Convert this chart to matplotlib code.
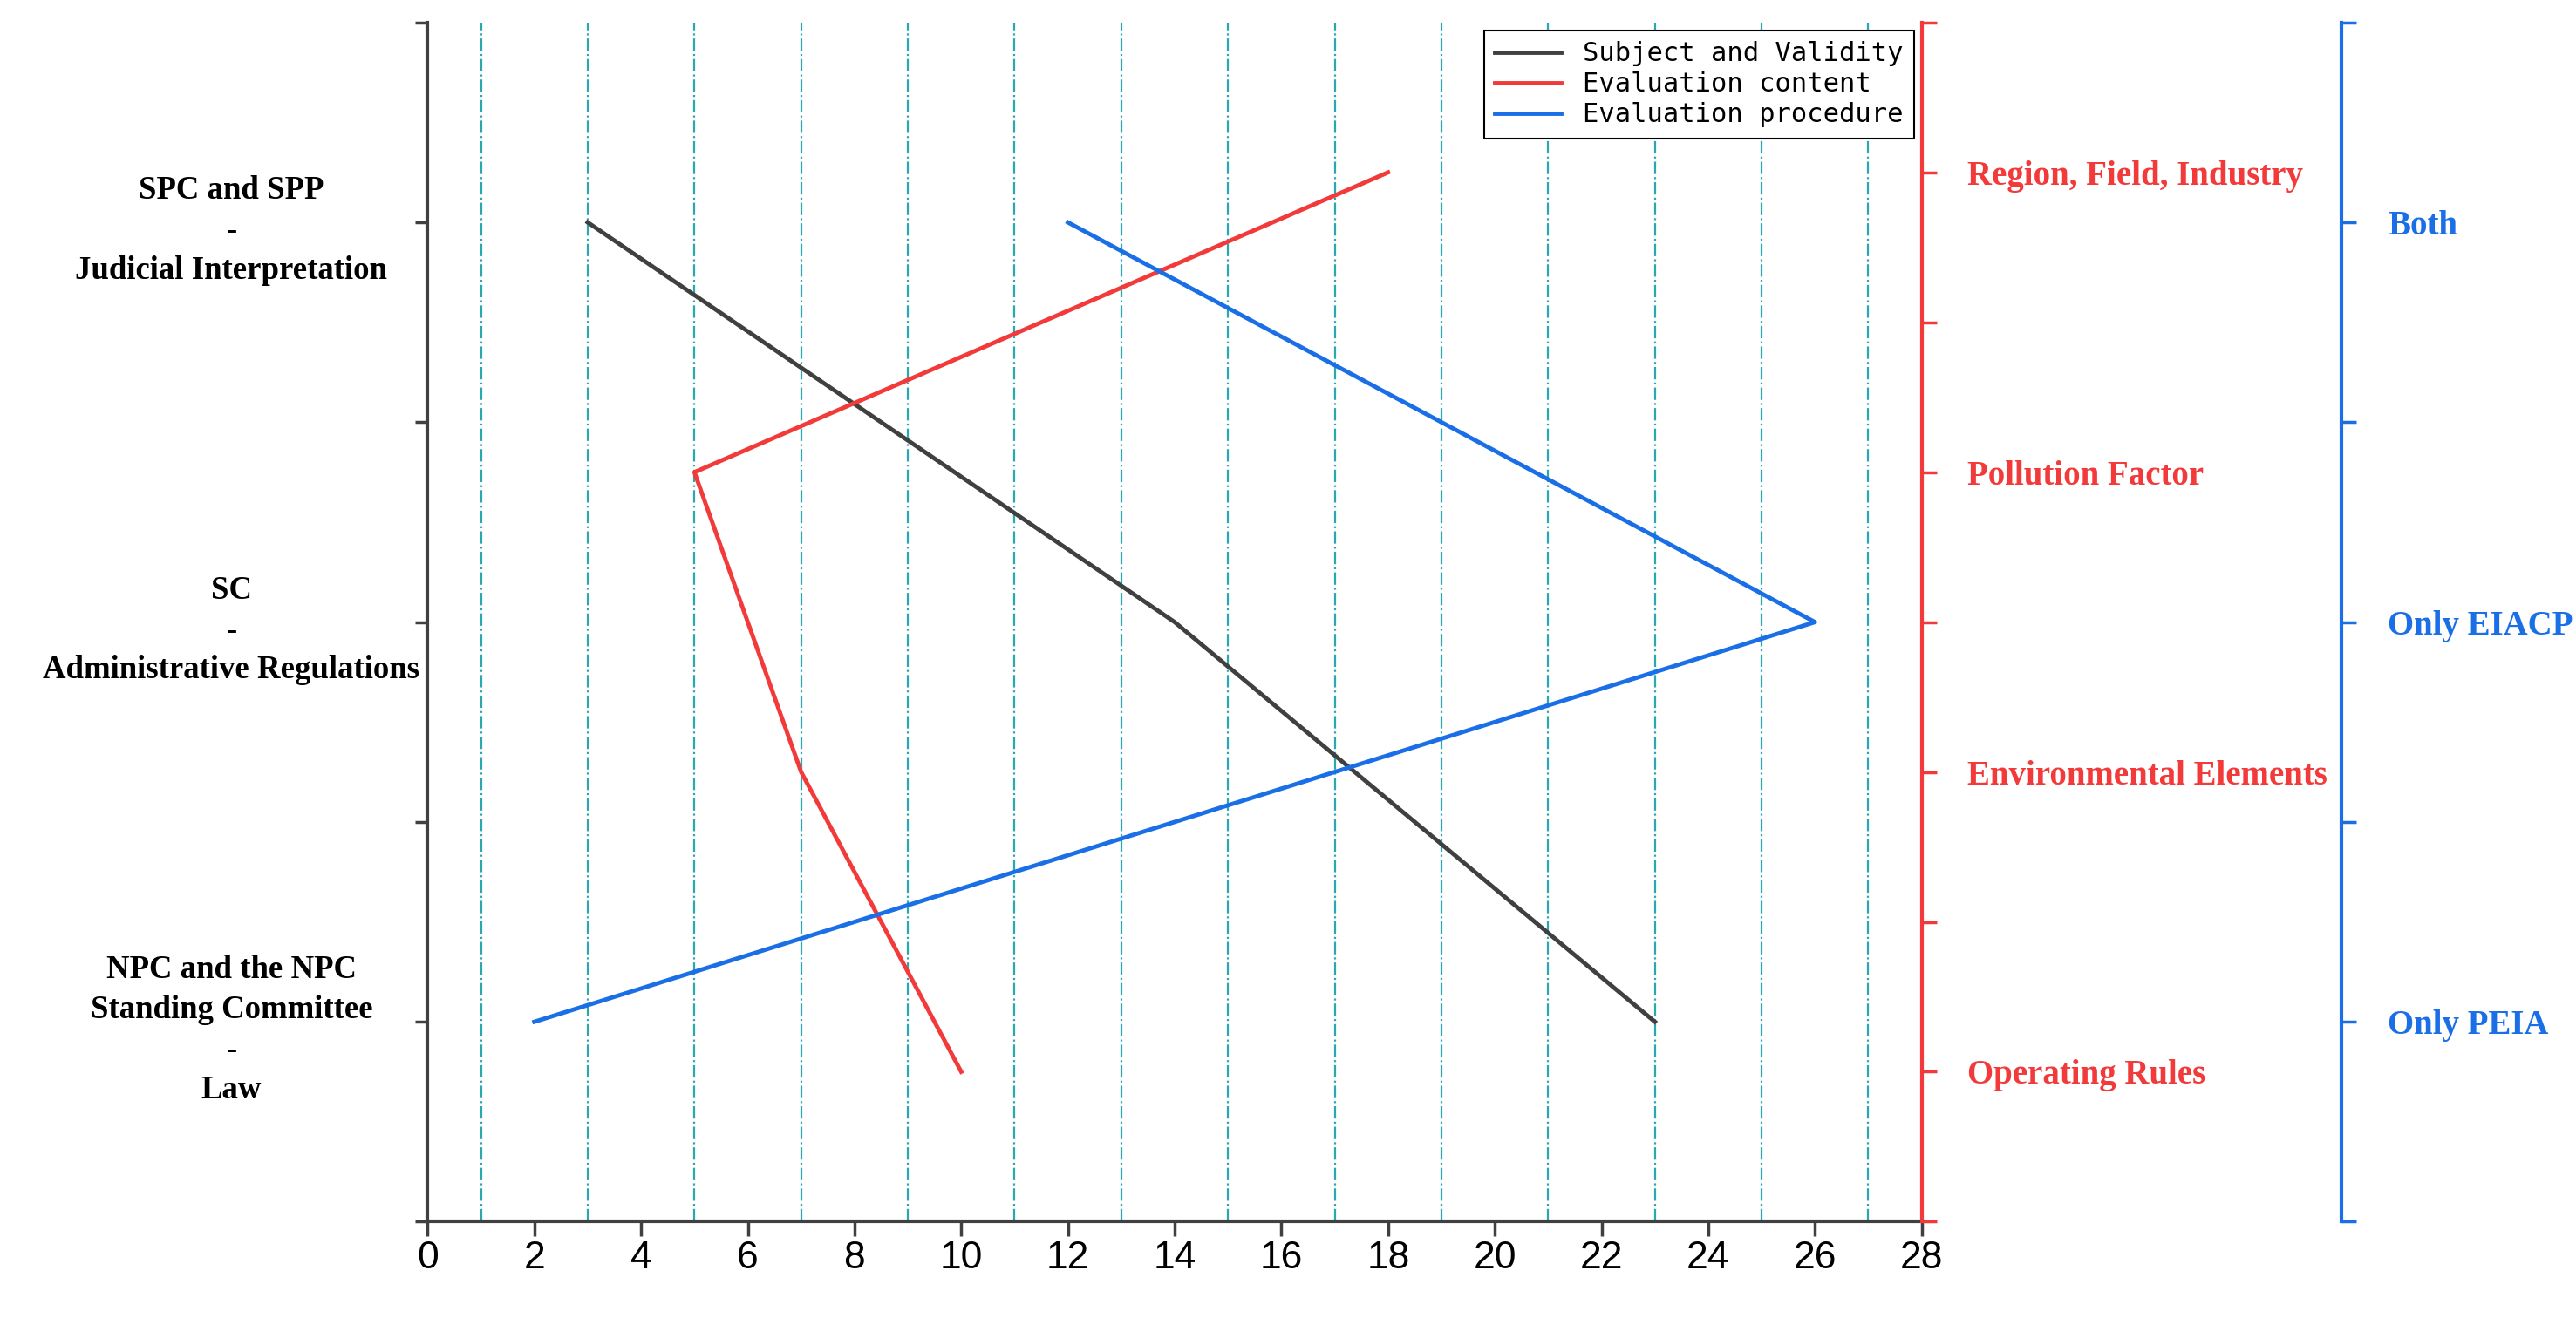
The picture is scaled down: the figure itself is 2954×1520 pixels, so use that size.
import matplotlib.pyplot as plt

# data
subj_x = [3, 14, 23]
subj_y = [5, 3, 1]
cont_x = [18, 5, 7, 10]
cont_y = [7, 5, 3, 1]
proc_x = [12, 26, 2]
proc_y = [5, 3, 1]

left_labels = ["NPC and the NPC\nStanding Committee\n-\nLaw",
               "SC\n-\nAdministrative Regulations",
               "SPC and SPP\n-\nJudicial Interpretation"]
red_labels = ["Operating Rules", "Environmental Elements",
              "Pollution Factor", "Region, Field, Industry"]
blue_labels = ["Only PEIA", "Only EIACP", "Both"]

BLACK = "#404040"
RED = "#f23a3a"
BLUE = "#1a6fe6"

fig = plt.figure(figsize=(29.54, 15.2), dpi=100)
ax = fig.add_axes([0.166, 0.078, 0.58, 0.905])
ax2 = ax.twinx()
ax3 = ax.twinx()

for x in range(1, 28, 2):
    ax.axvline(x, color="#2aa8b0", lw=1.6, ls="-.", zorder=0)

l1, = ax.plot(subj_x, subj_y, color=BLACK, lw=3.5, label="Subject and Validity")
l2, = ax2.plot(cont_x, cont_y, color=RED, lw=3.5, label="Evaluation content")
l3, = ax3.plot(proc_x, proc_y, color=BLUE, lw=3.5, label="Evaluation procedure")

ax.set_xlim(0, 28)
ax.set_xticks(range(0, 29, 2))
ax.set_xticklabels([str(v) for v in range(0, 29, 2)], fontfamily="Liberation Sans")
ax.set_ylim(0, 6)
ax.set_yticks([0, 1, 2, 3, 4, 5, 6])
ax.set_yticklabels(["", left_labels[0], "", left_labels[1], "", left_labels[2], ""],
                   ha="center", multialignment="center",
                   fontfamily="Liberation Serif", fontweight="bold", fontsize=26.5,
                   linespacing=1.4)
ax.tick_params(axis="y", pad=152, length=10, width=2.5, color=BLACK)
ax.tick_params(axis="x", labelsize=32, length=12, width=2.5, color=BLACK)

ax2.set_ylim(0, 8)
ax2.set_yticks(range(0, 9))
ax2.set_yticklabels(["", red_labels[0], "", red_labels[1], "", red_labels[2], "",
                     red_labels[3], ""],
                    fontfamily="Liberation Serif", fontweight="bold", fontsize=28)
ax2.tick_params(axis="y", colors=RED, length=12, width=2.5, pad=26)

ax3.spines["right"].set_position(("axes", 1.281))
ax3.set_ylim(0, 6)
ax3.set_yticks(range(0, 7))
ax3.set_yticklabels(["", blue_labels[0], "", blue_labels[1], "", blue_labels[2], ""],
                    fontfamily="Liberation Serif", fontweight="bold", fontsize=28)
ax3.tick_params(axis="y", colors=BLUE, length=12, width=2.5, pad=26)

for a in (ax, ax2, ax3):
    a.spines["top"].set_visible(False)
ax.spines["right"].set_visible(False)
ax.spines["left"].set_color(BLACK)
ax.spines["bottom"].set_color(BLACK)
for s in ("left", "bottom"):
    ax.spines[s].set_linewidth(3)
for a in (ax2, ax3):
    a.spines["left"].set_visible(False)
    a.spines["bottom"].set_visible(False)
ax2.spines["right"].set_color(RED)
ax2.spines["right"].set_linewidth(3)
ax3.spines["right"].set_color(BLUE)
ax3.spines["right"].set_linewidth(3)

leg = ax3.legend(handles=[l1, l2, l3], loc="upper right",
                 prop={"family": "DejaVu Sans Mono", "size": 22},
                 fancybox=False, edgecolor="black", framealpha=1,
                 borderaxespad=0.3, handlelength=2.5, labelspacing=0.2)
leg.get_frame().set_linewidth(1.5)

fig.savefig("out.png", dpi=100)
